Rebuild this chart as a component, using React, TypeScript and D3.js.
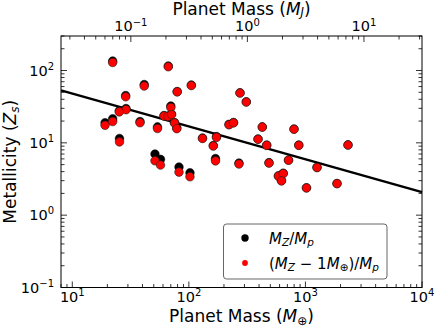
import React from 'react';
import { scaleLog } from 'd3';

// planet mass in Earth masses
const masses = [
  22.2, 66.6, 41.4, 105.0, 28.7, 79.4, 274.6, 311, 70.0, 28.9,
  25.3, 61.2, 66.2, 71.0, 22.2, 19.1, 38.1, 53.8, 75.3, 78.8,
  130.9, 172.6, 162.0, 221, 241.5, 25.4, 51.2, 57.1, 82.3, 102.2,
  169.2, 269, 392, 426.6, 465.4, 487, 716, 798, 877, 587,
  645, 623, 1257, 1021, 1866, 2319
];

// M_Z / M_p  (black)
const metalTotal = [
  135.3, 115.4, 64.0, 63.0, 45.1, 51.2, 49.3, 36.9, 32.3, 29.8,
  27.7, 23.8, 23.5, 25.0, 21.5, 19.0, 19.7, 16.6, 19.1, 16.1,
  11.65, 12.2, 9.17, 18.0, 19.1, 11.5, 7.0, 5.91, 4.63, 3.86,
  6.06, 5.25, 11.3, 16.6, 9.32, 5.32, 5.78, 15.5, 9.32, 3.49,
  3.80, 3.01, 4.58, 2.39, 2.74, 9.38
];

// (M_Z - 1 M_earth) / M_p  (red)
const metalMinusCore = [
  129.0, 112.8, 61.0, 62.0, 43.3, 50.7, 48.8, 36.7, 30.8, 28.7,
  26.8, 23.5, 23.1, 24.6, 19.7, 17.5, 19.0, 15.8, 18.8, 15.7,
  11.5, 11.9, 9.03, 17.8, 18.9, 10.3, 5.65, 4.93, 3.94, 3.40,
  5.63, 5.09, 11.2, 16.5, 9.23, 5.25, 5.74, 15.4, 9.23, 3.47,
  3.77, 2.98, 4.55, 2.38, 2.73, 9.32
];

// power-law fit line, end points
const fitMass = [8, 10000];
const fitMetal = [53, 2.08];

const xTickLabels = [10, 100, 1000, 10000];
const yTickLabels = [0.1, 1, 10, 100];
const topTickLabels = [0.1, 1, 10];

const EARTH_PER_JUPITER = 317.8;

const W = 436;
const H = 327;
const left = 61, right = 422, top = 36, bottom = 287.5;
const font = 'DejaVu Sans, sans-serif';

const Pow = ({ e, up = 6 }: { e: number; up?: number }) => (
  <>
    10
    <tspan dy={-up} fontSize={10}>{e < 0 ? '\u2212' + Math.abs(e) : e}</tspan>
  </>
);

const App = () => {
  const x = scaleLog().domain([8, 10000]).range([left, right]);
  const y = scaleLog().domain([0.1, 300]).range([bottom, top]);
  const xJ = scaleLog()
    .domain([8 / EARTH_PER_JUPITER, 10000 / EARTH_PER_JUPITER])
    .range([left, right]);

  const isMajor = (v: number) => Math.abs(Math.log10(v) - Math.round(Math.log10(v))) < 1e-6;
  const inRange = (p: number) => p >= left - 0.5 && p <= right + 0.5;
  const inRangeY = (p: number) => p >= top - 0.5 && p <= bottom + 0.5;

  const xTicks = x.ticks().filter(v => inRange(x(v)));
  const yTicks = y.ticks().filter(v => inRangeY(y(v)));
  const jTicks = xJ.ticks().filter(v => inRange(xJ(v)));

  const major = 6;
  const minor = 3.5;
  const tickFont = 14.5;
  const titleFont = 17;
  const legendFont = 15;

  return (
    <svg width={W} height={H} style={{ position: 'absolute', left: 0, top: 0 }} fontFamily={font}>
      <rect width={W} height={H} fill="#fff" />

      {/* fit line */}
      <line
        x1={x(fitMass[0])} y1={y(fitMetal[0])}
        x2={x(fitMass[1])} y2={y(fitMetal[1])}
        stroke="#000" strokeWidth={2.4}
      />

      {masses.map((m, i) => (
        <circle key={'b' + i} cx={x(m)} cy={y(metalTotal[i])} r={4.3} fill="#000" stroke="#000" strokeWidth={0.5} />
      ))}
      {masses.map((m, i) => (
        <circle key={'r' + i} cx={x(m)} cy={y(metalMinusCore[i])} r={4.3} fill="#ff0000" stroke="#222" strokeWidth={0.6} />
      ))}

      {/* frame */}
      <rect x={left} y={top} width={right - left} height={bottom - top} fill="none" stroke="#000" strokeWidth={1} />

      {/* bottom ticks (Earth masses), top ticks (Jupiter masses), mirrored y ticks */}
      {xTicks.map((v, i) => {
        const len = isMajor(v) ? major : minor;
        return (
          <line key={'xt' + i} x1={x(v)} x2={x(v)} y1={bottom} y2={bottom - len} stroke="#000" strokeWidth={0.8} />
        );
      })}
      {jTicks.map((v, i) => {
        const len = isMajor(v) ? major : minor;
        return (
          <line key={'jt' + i} x1={xJ(v)} x2={xJ(v)} y1={top} y2={top + len} stroke="#000" strokeWidth={0.8} />
        );
      })}
      {yTicks.map((v, i) => {
        const len = isMajor(v) ? major : minor;
        return (
          <g key={'yt' + i} stroke="#000" strokeWidth={0.8}>
            <line x1={left} x2={left + len} y1={y(v)} y2={y(v)} />
            <line x1={right} x2={right - len} y1={y(v)} y2={y(v)} />
          </g>
        );
      })}

      {/* tick labels */}
      {xTickLabels.map(v => (
        <text key={'xl' + v} x={x(v)} y={301.7} fontSize={tickFont} textAnchor="middle">
          <Pow e={Math.round(Math.log10(v))} />
        </text>
      ))}
      {topTickLabels.map(v => (
        <text key={'tl' + v} x={xJ(v)} y={30.5} fontSize={tickFont} textAnchor="middle">
          <Pow e={Math.round(Math.log10(v))} up={5} />
        </text>
      ))}
      {yTickLabels.map(v => (
        <text key={'yl' + v} x={54} y={y(v) + 5.3} fontSize={tickFont} textAnchor="end">
          <Pow e={Math.round(Math.log10(v))} />
        </text>
      ))}

      {/* axis titles */}
      <text x={(left + right) / 2} y={321.7} fontSize={titleFont} textAnchor="middle">
        Planet Mass (<tspan fontStyle="italic">M</tspan>
        <tspan dy={3} fontSize={12}>{'\u2295'}</tspan>
        <tspan dy={-3}>)</tspan>
      </text>
      <text x={(left + right) / 2} y={14.8} fontSize={titleFont} textAnchor="middle">
        Planet Mass (<tspan fontStyle="italic">M</tspan>
        <tspan dy={1.5} fontSize={11.5} fontStyle="italic">J</tspan>
        <tspan dy={-1.5}>)</tspan>
      </text>
      <text transform={`translate(15.5,${(top + bottom) / 2}) rotate(-90)`} fontSize={titleFont} textAnchor="middle">
        Metallicity (<tspan fontStyle="italic">Z</tspan>
        <tspan dy={3} fontSize={12} fontStyle="italic">s</tspan>
        <tspan dy={-3}>)</tspan>
      </text>

      {/* legend */}
      <g>
        <rect x={223.5} y={224} width={163.5} height={55} rx={3} fill="#fff" fillOpacity={0.9} stroke="#555" strokeWidth={0.9} />
        <circle cx={245} cy={238} r={3.7} fill="#000" />
        <text x={269} y={243.5} fontSize={legendFont}>
          <tspan fontStyle="italic">M</tspan>
          <tspan dy={2.5} fontSize={10.5} fontStyle="italic">Z</tspan>
          <tspan dy={-2.5}>/</tspan>
          <tspan fontStyle="italic">M</tspan>
          <tspan dy={2.5} fontSize={10.5} fontStyle="italic">p</tspan>
        </text>
        <circle cx={245} cy={263} r={2.9} fill="#ff0000" />
        <text x={269} y={268.5} fontSize={legendFont}>
          (<tspan fontStyle="italic">M</tspan>
          <tspan dy={2.5} fontSize={10.5} fontStyle="italic">Z</tspan>
          <tspan dy={-2.5}>{' \u2212 1'}</tspan>
          <tspan fontStyle="italic">M</tspan>
          <tspan dy={2.5} fontSize={10.5}>{'\u2295'}</tspan>
          <tspan dy={-2.5}>)/</tspan>
          <tspan fontStyle="italic">M</tspan>
          <tspan dy={2.5} fontSize={10.5} fontStyle="italic">p</tspan>
        </text>
      </g>
    </svg>
  );
};

export default App;
